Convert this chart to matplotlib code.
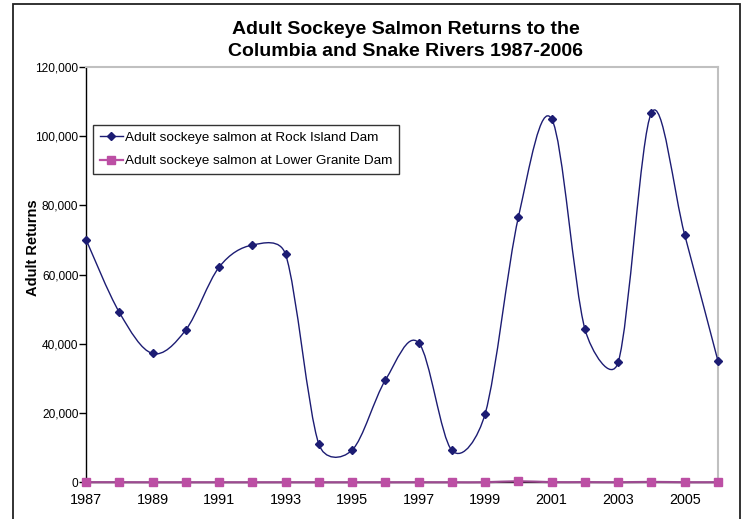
import matplotlib
matplotlib.use("Agg")
import matplotlib.pyplot as plt
from matplotlib.path import Path
from matplotlib.patches import PathPatch, Rectangle
from matplotlib.lines import Line2D
from matplotlib.ticker import FuncFormatter
import numpy as np

plt.rcParams['font.family'] = ['Liberation Sans', 'DejaVu Sans']

# Data
years = list(range(1987, 2007))
rock_island = [70100, 49100, 37200, 44000, 62100, 68500, 65800, 11000, 9300, 29500,
               40300, 9200, 19800, 76600, 104900, 44200, 34700, 106700, 71400, 35000]
lower_granite = [29, 23, 2, 0, 4, 1, 8, 1, 3, 3,
                 11, 2, 14, 299, 36, 52, 3, 109, 13, 21]
year_labels = [str(y) for y in range(1987, 2006, 2)]
y_ticks = [0, 20000, 40000, 60000, 80000, 100000, 120000]
series_names = ['Adult sockeye salmon at Rock Island Dam',
                'Adult sockeye salmon at Lower Granite Dam']

navy = '#1C1C73'
magenta = '#BC4FA4'
magenta_line = '#9C4A90'


def smooth_path(ax, xs, ys):
    # Excel-like smoothed line: Bezier segments, tangents 1/6 of the
    # neighbour chord, capped at half the segment length (in pixel space)
    pix = ax.transData.transform(np.column_stack([xs, ys]).astype(float))
    n = len(pix)
    verts = [pix[0]]
    codes = [Path.MOVETO]
    for i in range(n - 1):
        p0 = pix[i - 1] if i > 0 else pix[i]
        p1 = pix[i]
        p2 = pix[i + 1]
        p3 = pix[i + 2] if i + 2 < n else pix[i + 1]
        d12 = np.hypot(*(p2 - p1))
        d02 = np.hypot(*(p2 - p0))
        d13 = np.hypot(*(p3 - p1))
        f1 = 1 / 6.0
        f2 = 1 / 6.0
        if d02 / 6.0 > d12 / 2.0:
            f1 = d12 / (2.0 * d02)
        if d13 / 6.0 > d12 / 2.0:
            f2 = d12 / (2.0 * d13)
        c1 = p1 + (p2 - p0) * f1
        c2 = p2 - (p3 - p1) * f2
        verts += [c1, c2, p2]
        codes += [Path.CURVE4] * 3
    data = ax.transData.inverted().transform(np.array(verts))
    return Path(data, codes)


fig = plt.figure(figsize=(7.48, 5.19), dpi=100)
ax = fig.add_axes([86 / 748, 1 - 482.3 / 519, (718 - 86) / 748, (482.3 - 66.7) / 519])
ax.set_xlim(1987, 2006)
ax.set_ylim(0, 120000)

# smoothed lines
ax.add_patch(PathPatch(smooth_path(ax, years, lower_granite), facecolor='none',
                       edgecolor=magenta_line, lw=1.6, zorder=3, clip_on=False))
ax.add_patch(PathPatch(smooth_path(ax, years, rock_island), facecolor='none',
                       edgecolor=navy, lw=1.0, zorder=4))
# markers
ax.plot(years, lower_granite, linestyle='none', marker='s', markersize=5.5,
        color=magenta, zorder=5, clip_on=False)
ax.plot(years, rock_island, linestyle='none', marker='D', markersize=4.5,
        color=navy, zorder=6, clip_on=False)

ax.set_xticks(range(1987, 2006, 2))
ax.set_xticklabels(year_labels, fontsize=10.4)
ax.tick_params(axis='x', length=0, pad=8)
ax.set_yticks(y_ticks)
ax.yaxis.set_major_formatter(FuncFormatter(lambda v, p: f'{int(v):,}'))
ax.tick_params(axis='y', length=5, width=1, direction='out', labelsize=8.6, pad=0.5)

for side in ['top', 'right']:
    ax.spines[side].set_color('#C0C0C0')
    ax.spines[side].set_linewidth(1.5)
for side in ['left', 'bottom']:
    ax.spines[side].set_color('black')
    ax.spines[side].set_linewidth(1.0)

fig.text(33 / 748, 1 - 248 / 519, 'Adult Returns', rotation=90, fontsize=10.5,
         fontweight='bold', ha='center', va='center')
fig.text(406 / 748, 1 - 30 / 519, 'Adult Sockeye Salmon Returns to the',
         fontsize=14, fontweight='bold', ha='center', va='center')
fig.text(406 / 748, 1 - 51 / 519, 'Columbia and Snake Rivers 1987-2006',
         fontsize=14, fontweight='bold', ha='center', va='center')

handles = [
    Line2D([], [], color=navy, lw=1.0, marker='D', markersize=4.5),
    Line2D([], [], color=magenta, lw=1.6, marker='s', markersize=5.5),
]
leg = fig.legend(handles, series_names,
                 loc='upper left', bbox_to_anchor=(93 / 748, 1 - 125 / 519),
                 borderaxespad=0, fontsize=9.7, frameon=True, fancybox=False,
                 handlelength=1.7, handletextpad=0.15, borderpad=0.5,
                 labelspacing=0.8)
leg.get_frame().set_edgecolor('black')
leg.get_frame().set_linewidth(1.0)

# outer chart border
fig.patches.append(Rectangle((13 / 748, -0.02), (740 - 13) / 748, 1 - 4 / 519 + 0.02,
                             transform=fig.transFigure, fill=False,
                             edgecolor='#222222', lw=1.3))

fig.savefig('out.png', dpi=100)
